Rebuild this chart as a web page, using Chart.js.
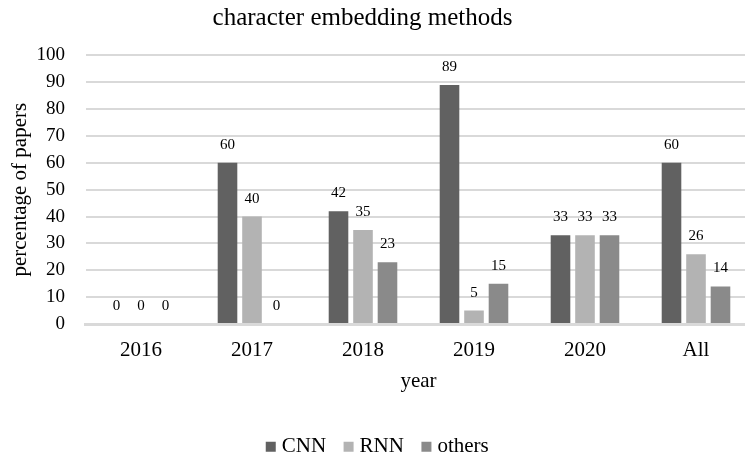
<!DOCTYPE html>
<html>
<head>
<meta charset="utf-8">
<script src="https://cdn.jsdelivr.net/npm/chart.js@4/dist/chart.umd.min.js"></script>
<style>
html,body{margin:0;padding:0;background:#fff;overflow:hidden;}
#wrap{width:745px;height:457px;overflow:hidden;position:relative;}
#c{display:block;}
</style>
</head>
<body>
<div id="wrap"><canvas id="c" width="752" height="457"></canvas></div>
<script>
const categories = ["2016", "2017", "2018", "2019", "2020", "All"];
const cnnValues = [0, 60, 42, 89, 33, 60];
const rnnValues = [0, 40, 35, 5, 33, 26];
const othersValues = [0, 0, 23, 15, 33, 14];
const yTickStep = 10;
const yMin = 0;
const yMax = 100;

const FONT = "'Liberation Serif', 'Times New Roman', serif";

const valueLabels = {
  id: 'valueLabels',
  afterDatasetsDraw(chart) {
    const ctx = chart.ctx;
    ctx.save();
    ctx.font = "15px " + FONT;
    ctx.fillStyle = "#000";
    ctx.textAlign = "center";
    ctx.textBaseline = "alphabetic";
    chart.data.datasets.forEach((ds, i) => {
      const meta = chart.getDatasetMeta(i);
      meta.data.forEach((bar, j) => {
        ctx.fillText(String(ds.data[j]), bar.x, bar.y - 14);
      });
    });
    ctx.restore();
  }
};

// shift the title block so the title sits where it does in the original figure
const titleShift = {
  id: 'titleShift',
  afterLayout(chart) {
    const t = chart.titleBlock;
    if (t) { t.right -= 34; t.width -= 34; }
  }
};

new Chart(document.getElementById('c'), {
  type: 'bar',
  data: {
    labels: categories,
    datasets: [
      { label: 'CNN', data: cnnValues, backgroundColor: '#616161' },
      { label: 'RNN', data: rnnValues, backgroundColor: '#b3b3b3' },
      { label: 'others', data: othersValues, backgroundColor: '#8a8a8a' }
    ]
  },
  options: {
    responsive: false,
    animation: false,
    devicePixelRatio: 1,
    layout: { padding: { left: 7.5, right: 0.5, top: 0, bottom: -10.2 } },
    datasets: { bar: { categoryPercentage: 0.662, barPercentage: 0.8 } },
    scales: {
      x: {
        grid: { display: false, drawTicks: false },
        border: { display: true, color: '#d9d9d9', width: 3 },
        ticks: { color: '#000', font: { family: FONT, size: 21 }, padding: 14 },
        title: { display: true, text: 'year', color: '#000', font: { family: FONT, size: 21 }, padding: { top: -8.8, bottom: 20.6 } }
      },
      y: {
        min: yMin, max: yMax,
        grid: { color: '#d9d9d9', lineWidth: 2, drawTicks: false },
        border: { display: false },
        ticks: { color: '#000', font: { family: FONT, size: 19 }, padding: 20.5, stepSize: yTickStep, autoSkip: false },
        title: { display: true, text: 'percentage of papers', color: '#000', font: { family: FONT, size: 21 }, padding: { top: 0, bottom: -16.7 } }
      }
    },
    plugins: {
      title: { display: true, text: 'character embedding methods', color: '#000', font: { family: FONT, size: 25, weight: 'normal' }, padding: { top: 3.6, bottom: 21.8 } },
      legend: {
        position: 'bottom',
        labels: { color: '#000', font: { family: FONT, size: 21 }, usePointStyle: true, pointStyle: 'rect', boxWidth: 1, boxHeight: 10, padding: 22 }
      },
      tooltip: { enabled: false }
    }
  },
  plugins: [valueLabels, titleShift]
});
</script>
</body>
</html>
